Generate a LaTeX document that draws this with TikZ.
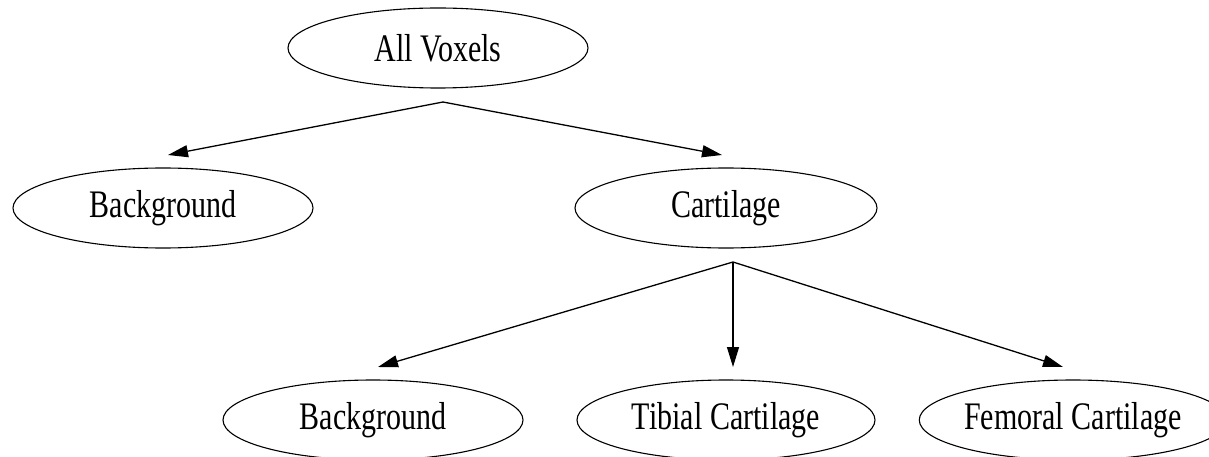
\documentclass[tikz,border=0pt]{standalone}
\usepackage{fontspec}
\setmainfont{Liberation Serif}
\usetikzlibrary{shapes.geometric,arrows.meta}
\newcommand{\tallText}[1]{\scalebox{1}[1.3]{#1}}
\begin{document}
\begin{tikzpicture}[x=1pt,y=-1pt,
  box/.style={draw,ellipse,line width=1.1pt,inner sep=0pt,minimum height=80pt,
    font=\fontsize{30}{36}\selectfont},
  link/.style={line width=1.3pt,-{Triangle[length=20pt,width=12pt]}}]
\useasboundingbox (0,0) rectangle (1209,457);
\node[box,minimum width=300pt] (av) at (438,48) {\tallText{All Voxels}};
\node[box,minimum width=300pt] (bg1) at (163,208) {\tallText{Background}};
\node[box,minimum width=302pt] (cart) at (726,208) {\tallText{Cartilage}};
\node[box,minimum width=300pt] (bg2) at (373,420) {\tallText{Background}};
\node[box,minimum width=298pt] (tib) at (726,420) {\tallText{Tibial Cartilage}};
\node[box,minimum width=306pt] (fem) at (1073,420) {\tallText{Femoral Cartilage}};
\coordinate (avo) at (443,102);
\coordinate (bg1i) at (168,155);
\coordinate (carti) at (722,155);
\coordinate (carto) at (733,262);
\coordinate (bg2i) at (378,367);
\coordinate (tibi) at (733,367);
\coordinate (femi) at (1063,367);
\draw[link] (avo) -- (bg1i);
\draw[link] (avo) -- (carti);
\draw[link] (carto) -- (bg2i);
\draw[link] (carto) -- (tibi);
\draw[link] (carto) -- (femi);
\end{tikzpicture}
\end{document}
